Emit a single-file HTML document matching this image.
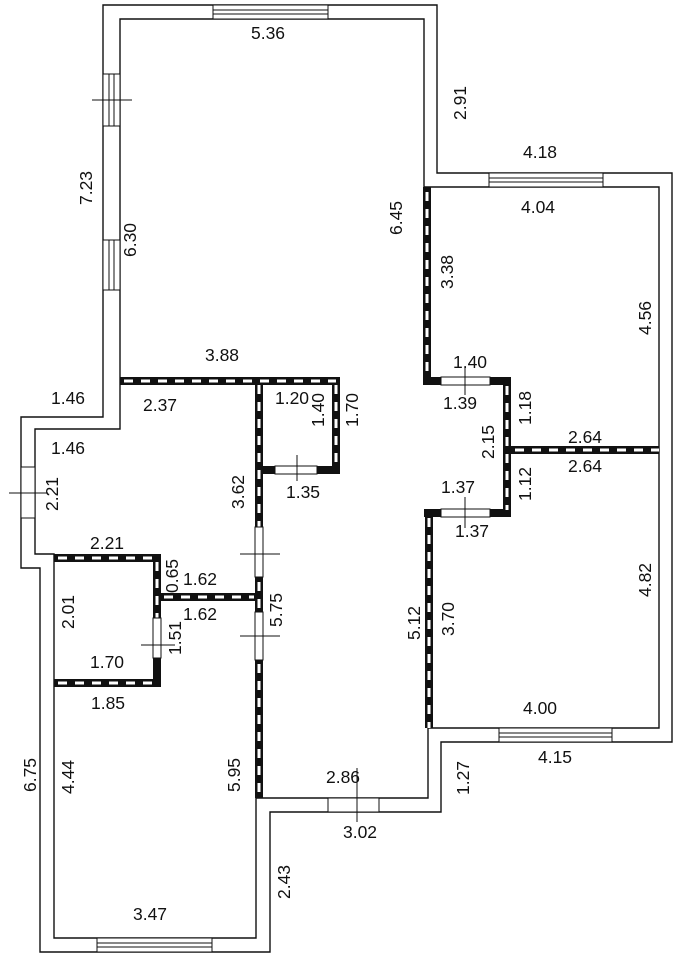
<!DOCTYPE html>
<html><head><meta charset="utf-8"><style>
html,body{margin:0;padding:0;background:#fff;}
svg{display:block}
text{font-family:"Liberation Sans",Arial,sans-serif;font-size:17.5px;fill:#111;}
</style></head><body>
<svg width="686" height="960" viewBox="0 0 686 960" xmlns="http://www.w3.org/2000/svg">
<g fill="none" stroke="#111" stroke-width="1.4">
<polygon points="103,5 437,5 437,173 672,173 672,742 441,742 441,812 270,812 270,952 40,952 40,568 21,568 21,417 103,417"/>
<polygon points="120,19 424,19 424,187 659,187 659,728 428,728 428,798 256,798 256,938 54,938 54,554 35,554 35,429 120,429"/>
</g>
<g stroke="#111" stroke-width="1">
<rect x="213" y="5" width="115" height="14" fill="#fff"/><line x1="213" y1="10" x2="328" y2="10"/><line x1="213" y1="14" x2="328" y2="14"/>
<rect x="489" y="173" width="114" height="14" fill="#fff"/><line x1="489" y1="178" x2="603" y2="178"/><line x1="489" y1="182" x2="603" y2="182"/>
<rect x="103" y="74" width="17" height="52" fill="#fff"/><line x1="109" y1="74" x2="109" y2="126"/><line x1="114" y1="74" x2="114" y2="126"/>
<rect x="103" y="240" width="17" height="50" fill="#fff"/><line x1="109" y1="240" x2="109" y2="290"/><line x1="114" y1="240" x2="114" y2="290"/>
<line x1="92" y1="100" x2="132" y2="100"/>
<rect x="21" y="467" width="14" height="51" fill="#fff"/>
<line x1="9" y1="493" x2="48" y2="493"/>
<rect x="97" y="938" width="115" height="14" fill="#fff"/><line x1="97" y1="943" x2="212" y2="943"/><line x1="97" y1="947" x2="212" y2="947"/>
<rect x="499" y="728" width="113" height="14" fill="#fff"/><line x1="499" y1="733" x2="612" y2="733"/><line x1="499" y1="737" x2="612" y2="737"/>
<rect x="328" y="798" width="51" height="14" fill="#fff"/>
<line x1="357" y1="768" x2="357" y2="822"/>
</g>
<g stroke-linecap="butt">
<g stroke="#111" stroke-width="8">
<line x1="120" y1="381" x2="340" y2="381"/>
<line x1="336" y1="377" x2="336" y2="473"/>
<line x1="262" y1="470" x2="340" y2="470"/>
<line x1="259" y1="377" x2="259" y2="527"/>
<line x1="259" y1="577" x2="259" y2="612"/>
<line x1="259" y1="660" x2="259" y2="798"/>
<line x1="54" y1="558" x2="161" y2="558"/>
<line x1="157" y1="555" x2="157" y2="618"/>
<line x1="157" y1="658" x2="157" y2="686"/>
<line x1="160" y1="597" x2="256" y2="597"/>
<line x1="54" y1="683" x2="161" y2="683"/>
<line x1="427" y1="187" x2="427" y2="385"/>
<line x1="424" y1="381" x2="511" y2="381"/>
<line x1="507" y1="378" x2="507" y2="516"/>
<line x1="511" y1="450" x2="659" y2="450"/>
<line x1="424" y1="513" x2="511" y2="513"/>
<line x1="429" y1="510" x2="429" y2="728"/>
</g>
<g stroke="#fff" stroke-width="3" stroke-dasharray="9 8">
<line x1="124" y1="381" x2="336" y2="381"/>
<line x1="336" y1="385" x2="336" y2="466"/>
<line x1="259" y1="385" x2="259" y2="527"/>
<line x1="259" y1="582" x2="259" y2="612"/>
<line x1="259" y1="664" x2="259" y2="798"/>
<line x1="58" y1="558" x2="154" y2="558"/>
<line x1="157" y1="562" x2="157" y2="618"/>
<line x1="58" y1="683" x2="154" y2="683"/>
<line x1="164" y1="597" x2="254" y2="597"/>
<line x1="427" y1="192" x2="427" y2="378"/>
<line x1="507" y1="386" x2="507" y2="510"/>
<line x1="515" y1="450" x2="659" y2="450"/>
<line x1="429" y1="518" x2="429" y2="728"/>
</g>
</g>
<g stroke="#111" stroke-width="1" fill="#fff">
<rect x="275" y="466" width="42" height="8"/>
<rect x="255" y="527" width="8" height="50"/>
<rect x="255" y="612" width="8" height="48"/>
<rect x="153" y="618" width="8" height="40"/>
<rect x="441" y="377" width="49" height="8"/>
<rect x="441" y="509" width="49" height="8"/>
<line x1="297" y1="455" x2="297" y2="481"/>
<line x1="240" y1="554" x2="280" y2="554"/>
<line x1="240" y1="636" x2="280" y2="636"/>
<line x1="141" y1="645" x2="175" y2="645"/>
<line x1="465" y1="368" x2="465" y2="395"/>
<line x1="465" y1="497" x2="465" y2="528"/>
</g>
<g text-anchor="middle">
<text x="268" y="39">5.36</text>
<text x="540" y="158">4.18</text>
<text x="538" y="213">4.04</text>
<text x="222" y="361">3.88</text>
<text x="68" y="404">1.46</text>
<text x="160" y="411">2.37</text>
<text x="292" y="404">1.20</text>
<text x="470" y="368">1.40</text>
<text x="460" y="409">1.39</text>
<text x="585" y="443">2.64</text>
<text x="585" y="472">2.64</text>
<text x="68" y="454">1.46</text>
<text x="303" y="498">1.35</text>
<text x="458" y="493">1.37</text>
<text x="472" y="537">1.37</text>
<text x="107" y="549">2.21</text>
<text x="200" y="585">1.62</text>
<text x="200" y="620">1.62</text>
<text x="107" y="668">1.70</text>
<text x="108" y="709">1.85</text>
<text x="540" y="714">4.00</text>
<text x="555" y="763">4.15</text>
<text x="343" y="783">2.86</text>
<text x="360" y="838">3.02</text>
<text x="150" y="920">3.47</text>
<text transform="translate(466,103) rotate(-90)">2.91</text>
<text transform="translate(402,218) rotate(-90)">6.45</text>
<text transform="translate(92,188) rotate(-90)">7.23</text>
<text transform="translate(136,240) rotate(-90)">6.30</text>
<text transform="translate(453,272) rotate(-90)">3.38</text>
<text transform="translate(651,318) rotate(-90)">4.56</text>
<text transform="translate(324,410) rotate(-90)">1.40</text>
<text transform="translate(358,410) rotate(-90)">1.70</text>
<text transform="translate(531,408) rotate(-90)">1.18</text>
<text transform="translate(494,442) rotate(-90)">2.15</text>
<text transform="translate(531,484) rotate(-90)">1.12</text>
<text transform="translate(58,494) rotate(-90)">2.21</text>
<text transform="translate(244,492) rotate(-90)">3.62</text>
<text transform="translate(178,576) rotate(-90)">0.65</text>
<text transform="translate(74,612) rotate(-90)">2.01</text>
<text transform="translate(282,610) rotate(-90)">5.75</text>
<text transform="translate(181,638) rotate(-90)">1.51</text>
<text transform="translate(420,623) rotate(-90)">5.12</text>
<text transform="translate(454,619) rotate(-90)">3.70</text>
<text transform="translate(651,580) rotate(-90)">4.82</text>
<text transform="translate(36,775) rotate(-90)">6.75</text>
<text transform="translate(74,777) rotate(-90)">4.44</text>
<text transform="translate(240,775) rotate(-90)">5.95</text>
<text transform="translate(469,778) rotate(-90)">1.27</text>
<text transform="translate(290,882) rotate(-90)">2.43</text>
</g>
</svg>
</body></html>
